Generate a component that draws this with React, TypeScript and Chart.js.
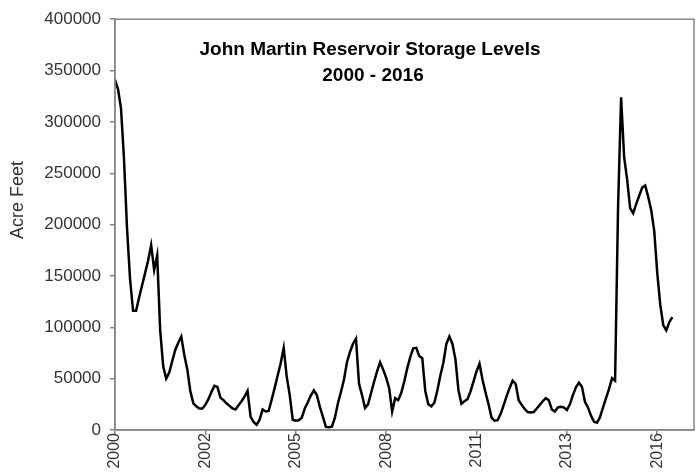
import React, { useEffect, useRef } from "react";
import { Chart, registerables } from "chart.js";

Chart.register(...registerables);

// Tick labels along the category-like x axis (one label every `pointsPerLabel` samples)
const yearLabels = ["2000", "2002", "2005", "2008", "2011", "2013", "2016"];
const pointsPerLabel = 30;
const xAxisEnd = 192.2; // axis extends a bit past the last sample

// Storage, thousands of acre-feet at uniform sample spacing
const storageThousandAF = [
  341, 332, 313, 263, 196, 147, 116, 116, 129, 141,
  153, 165, 180, 156, 170, 97, 62, 50, 56, 67,
  78, 85, 91, 73, 59, 38, 26, 23, 21, 21,
  24.5, 30, 37, 43, 42, 31.5, 29, 26, 23.5, 21,
  20, 24, 28, 32.5, 38, 13, 7.8, 5, 10, 20,
  18, 18.5, 29.5, 41, 53, 65, 80, 52, 34, 10,
  9, 9.5, 12, 21, 27, 33.5, 38.5, 34, 22.5, 13,
  3, 2.6, 3.3, 12, 26, 37, 49, 66, 76, 84,
  89, 45, 34, 21.5, 25, 36, 47, 57, 66, 59,
  51, 41, 18, 31, 29, 36, 47, 60, 71, 79.5,
  80, 72, 70, 38, 25, 23, 26.5, 38.5, 53, 65.5,
  84, 91, 84, 69, 39, 25.5, 28, 30, 37.5, 47,
  57, 64.5, 49, 36.5, 25, 12, 9, 9.5, 15.5, 24,
  33, 41, 48, 45, 29, 24.5, 20.5, 17.5, 17, 17.5,
  21, 24.5, 28, 31, 29, 20, 18, 22, 22.5, 22,
  19.5, 25, 34, 41.5, 46, 42, 27.5, 22, 14, 8,
  7, 12.5, 22, 31, 40, 50.5, 48, 218, 324, 266,
  244, 216, 211, 220, 228, 236, 238, 227, 214, 194,
  153, 122, 102, 97, 105, 110,
];

const yMin = 0;
const yMax = 400000;
const yStep = 50000;

const titleLines = ["John Martin Reservoir Storage Levels", "2000 - 2016"];
const yAxisTitle = "Acre Feet";

const FONT = '"Liberation Sans", Arial, Helvetica, sans-serif';
const AXIS_GRAY = "#868686";
const TEXT_GRAY = "#333333";

export default function App() {
  const ref = useRef<HTMLCanvasElement>(null);

  useEffect(() => {
    const canvas = ref.current;
    if (!canvas) return;
    const data = storageThousandAF.map((v, i) => ({ x: i, y: v * 1000 }));

    const overlay = {
      id: "overlay",
      afterDraw(chart: any) {
        const { ctx, chartArea: a } = chart;
        ctx.save();
        ctx.strokeStyle = AXIS_GRAY;
        ctx.lineWidth = 1.5;
        ctx.strokeRect(a.left, a.top, a.right - a.left, a.bottom - a.top);
        ctx.fillStyle = "#000";
        ctx.font = `bold 19px ${FONT}`;
        ctx.textAlign = "center";
        ctx.textBaseline = "alphabetic";
        ctx.fillText(titleLines[0], 370, 55);
        ctx.fillText(titleLines[1], 373, 81);
        ctx.translate(18, 200);
        ctx.rotate(-Math.PI / 2);
        ctx.font = `18px ${FONT}`;
        ctx.fillStyle = TEXT_GRAY;
        ctx.textBaseline = "middle";
        ctx.fillText(yAxisTitle, 0, 0);
        ctx.restore();
      },
    };

    const chart = new Chart(canvas, {
      type: "line",
      data: {
        datasets: [
          {
            data,
            borderColor: "#000000",
            borderWidth: 2.5,
            pointRadius: 0,
            tension: 0,
            fill: false,
          },
        ],
      },
      options: {
        animation: false,
        responsive: false,
        layout: { padding: { top: 19, right: 5, left: 0, bottom: 0 } },
        plugins: {
          legend: { display: false },
          tooltip: { enabled: false },
          title: { display: false },
        },
        scales: {
          x: {
            type: "linear",
            min: 0,
            max: xAxisEnd,
            afterBuildTicks: (s: any) => {
              s.ticks = yearLabels.map((_, i) => ({ value: i * pointsPerLabel }));
            },
            afterFit: (s: any) => {
              s.height = 42;
            },
            ticks: {
              autoSkip: false,
              maxRotation: 90,
              minRotation: 90,
              padding: -2,
              color: TEXT_GRAY,
              font: { size: 16, family: FONT },
              callback: (v: any) => yearLabels[Math.round(Number(v) / pointsPerLabel)] ?? "",
            },
            grid: { drawOnChartArea: false, tickLength: 5, color: AXIS_GRAY, lineWidth: 1.5 },
            border: { color: AXIS_GRAY, width: 1.5 },
          },
          y: {
            min: yMin,
            max: yMax,
            afterFit: (s: any) => {
              s.width = 115;
            },
            ticks: {
              stepSize: yStep,
              padding: 9,
              color: TEXT_GRAY,
              font: { size: 17, family: FONT },
              callback: (v: any) => String(v),
            },
            grid: { drawOnChartArea: false, tickLength: 5, color: AXIS_GRAY, lineWidth: 1.5 },
            border: { color: AXIS_GRAY, width: 1.5 },
          },
        },
      },
      plugins: [overlay],
    });

    return () => chart.destroy();
  }, []);

  return (
    <div style={{ position: "fixed", left: 0, top: 0, width: 699, height: 472, background: "#fff" }}>
      <canvas ref={ref} width={699} height={472} style={{ display: "block" }} />
    </div>
  );
}
